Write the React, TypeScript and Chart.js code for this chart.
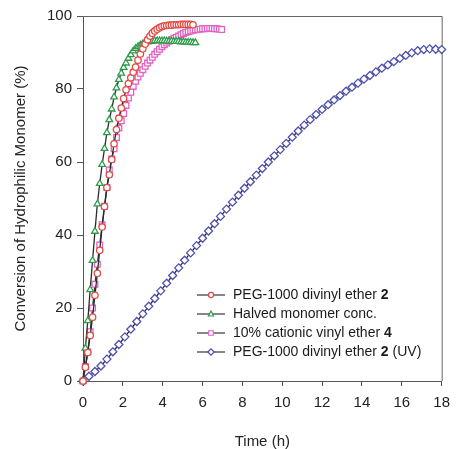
import { useEffect, useRef } from "react";
import { Chart, registerables } from "chart.js";

Chart.register(...registerables);

// Sampling times (h) for the three fast runs
const fastTimes = [
  0, 0.12, 0.24, 0.36, 0.48, 0.6, 0.72, 0.84, 0.96, 1.08, 1.2, 1.32, 1.44, 1.56, 1.68, 1.8, 1.92, 2.04, 2.16, 2.28,
  2.4, 2.52, 2.64, 2.76, 2.88, 3.0, 3.12, 3.24, 3.36, 3.48, 3.6, 3.72, 3.84, 3.96, 4.08, 4.2, 4.32, 4.44, 4.56, 4.68,
  4.8, 4.92, 5.04, 5.16, 5.28, 5.4, 5.52, 5.64, 5.76, 5.88, 6.0, 6.12, 6.24, 6.36, 6.48, 6.6, 6.72, 6.84, 6.96,
];

// PEG-1000 divinyl ether 2
const pegValues = [
  0, 3.8, 7.8, 12.5, 17.5, 23.5, 29.5, 35.8, 42.2, 47.8, 53, 56.5, 60.7, 65, 68.9, 72, 74.8, 77.4, 79.8, 81.5,
  83.1, 84.6, 86, 87.9, 89.6, 91, 92.3, 93.5, 94.5, 95.3, 95.9, 96.4, 96.8, 97.1, 97.3, 97.4, 97.5, 97.5, 97.6, 97.6,
  97.6, 97.7, 97.7, 97.7, 97.7, 97.7, 97.6,
];

// Halved monomer conc.
const halvedValues = [
  0, 9, 16.5, 25, 33, 41, 48.5, 54.1, 59.3, 63.7, 68, 71.6, 74.5, 77.8, 80.3, 82.6, 84.3, 85.9, 87.1, 88.4,
  89.4, 90.4, 91.1, 91.6, 92.0, 92.4, 92.7, 92.9, 93.0, 93.1, 93.2, 93.2, 93.2, 93.2, 93.2, 93.1, 93.1, 93.1, 93.0, 93.0,
  93.0, 92.9, 92.9, 92.8, 92.8, 92.8, 92.7, 92.7,
];

// 10% cationic vinyl ether 4
const cationicValues = [
  0, 4, 8, 13.5, 20, 26.5, 32, 37.3, 42.8, 47.9, 53, 57.8, 60.8, 63.6, 66.7, 69.3, 71.3, 73.3, 75.5, 77.5,
  79.1, 80.7, 82.1, 83.3, 84.3, 85.3, 86.2, 87.1, 87.9, 88.7, 89.5, 90.2, 90.9, 91.6, 92.1, 92.6, 93.1, 93.5, 93.9, 94.2,
  94.5, 94.9, 95.2, 95.5, 95.7, 95.9, 96.1, 96.2, 96.3, 96.4, 96.5, 96.5, 96.6, 96.6, 96.6, 96.5, 96.5, 96.4, 96.3,
];

// PEG-1000 divinyl ether 2 (UV)
const uvTimes = [
  0, 0.3, 0.6, 0.9, 1.2, 1.5, 1.8, 2.1, 2.4, 2.7, 3.0, 3.3, 3.6, 3.9, 4.2, 4.5, 4.8, 5.1, 5.4, 5.7,
  6.0, 6.3, 6.6, 6.9, 7.2, 7.5, 7.8, 8.1, 8.4, 8.7, 9.0, 9.3, 9.6, 9.9, 10.2, 10.5, 10.8, 11.1, 11.4, 11.7,
  12.0, 12.3, 12.6, 12.9, 13.2, 13.5, 13.8, 14.1, 14.4, 14.7, 15.0, 15.3, 15.6, 15.9, 16.2, 16.5, 16.8, 17.1, 17.4, 17.7,
  18.0,
];
const uvValues = [
  0, 1.3, 2.6, 4.1, 6.0, 8.0, 10.0, 12.1, 14.2, 16.3, 18.4, 20.5, 22.6, 24.7, 26.8, 28.9, 31.0, 33.1, 35.1, 37.1,
  39.1, 41.1, 43.1, 45.1, 47.1, 49.0, 50.9, 52.8, 54.6, 56.4, 58.2, 60.0, 61.7, 63.4, 65.1, 66.8, 68.5, 70.1, 71.6, 73.0,
  74.4, 75.7, 77.0, 78.2, 79.4, 80.5, 81.6, 82.7, 83.7, 84.7, 85.7, 86.6, 87.5, 88.4, 89.2, 89.9, 90.5, 90.8, 91.0, 90.9,
  90.8,
];

const legendParts = [
  ["PEG-1000 divinyl ether ", "2", ""],
  ["Halved monomer conc.", "", ""],
  ["10% cationic vinyl ether ", "4", ""],
  ["PEG-1000 divinyl ether ", "2", " (UV)"],
];

const xTitle = "Time (h)";
const yTitle = "Conversion of Hydrophilic Monomer (%)";

const FONT = '"Liberation Sans", Arial, Helvetica, sans-serif';

const markerStyles = [
  { style: "circle", color: "#e24a44", radius: 3.2 },
  { style: "triangle", color: "#2f9c4c", radius: 3.8 },
  { style: "rect", color: "#e063c4", radius: 4 },
  { style: "rectRot", color: "#4f50ad", radius: 4 },
];

function zip(times: number[], values: number[]) {
  return values.map((y, i) => ({ x: times[i], y }));
}

function drawMarker(ctx: CanvasRenderingContext2D, style: string, r: number, x: number, y: number) {
  ctx.beginPath();
  if (style === "circle") {
    ctx.arc(x, y, r, 0, Math.PI * 2);
  } else if (style === "triangle") {
    ctx.moveTo(x, y - r);
    ctx.lineTo(x - r * 0.866, y + r * 0.5 + 0.5);
    ctx.lineTo(x + r * 0.866, y + r * 0.5 + 0.5);
    ctx.closePath();
  } else if (style === "rect") {
    const s = r * Math.SQRT1_2;
    ctx.rect(x - s, y - s, 2 * s, 2 * s);
  } else {
    ctx.moveTo(x - r, y);
    ctx.lineTo(x, y - r);
    ctx.lineTo(x + r, y);
    ctx.lineTo(x, y + r);
    ctx.closePath();
  }
  ctx.fill();
  ctx.stroke();
}

export default function App() {
  const ref = useRef<HTMLCanvasElement | null>(null);

  useEffect(() => {
    if (!ref.current) return;
    const seriesData = [
      zip(fastTimes, pegValues),
      zip(fastTimes, halvedValues),
      zip(fastTimes, cationicValues),
      zip(uvTimes, uvValues),
    ];

    const framePlugin = {
      id: "frame",
      beforeDatasetsDraw(chart: any) {
        const { ctx, chartArea } = chart;
        ctx.save();
        ctx.strokeStyle = "#666";
        ctx.lineWidth = 1;
        ctx.beginPath();
        ctx.moveTo(chartArea.left, chartArea.top + 0.5);
        ctx.lineTo(chartArea.right + 0.5, chartArea.top + 0.5);
        ctx.lineTo(chartArea.right + 0.5, chartArea.bottom);
        ctx.stroke();
        ctx.restore();
      },
    };

    const legendPlugin = {
      id: "customLegend",
      afterDraw(chart: any) {
        const { ctx } = chart;
        ctx.save();
        const x0 = 197;
        const x1 = 225;
        const tx = 233;
        legendParts.forEach((parts, i) => {
          const y = 295 + i * 19;
          ctx.strokeStyle = "#444";
          ctx.lineWidth = 1.3;
          ctx.beginPath();
          ctx.moveTo(x0, y);
          ctx.lineTo(x1, y);
          ctx.stroke();
          const m = markerStyles[i];
          ctx.fillStyle = "#fff";
          ctx.strokeStyle = m.color;
          ctx.lineWidth = 1.2;
          drawMarker(ctx, m.style, m.radius * 0.8, (x0 + x1) / 2, y);
          ctx.fillStyle = "#1a1a1a";
          ctx.textBaseline = "middle";
          ctx.textAlign = "left";
          let x = tx;
          ctx.font = `14px ${FONT}`;
          ctx.fillText(parts[0], x, y);
          x += ctx.measureText(parts[0]).width;
          if (parts[1]) {
            ctx.font = `bold 14px ${FONT}`;
            ctx.fillText(parts[1], x, y);
            x += ctx.measureText(parts[1]).width;
          }
          if (parts[2]) {
            ctx.font = `14px ${FONT}`;
            ctx.fillText(parts[2], x, y);
          }
        });
        ctx.restore();
      },
    };

    const chart = new Chart(ref.current, {
      type: "line",
      data: {
        datasets: seriesData.map((d, i) => ({
          label: legendParts[i].join(""),
          data: d,
          borderColor: "#2b2b2b",
          borderWidth: 1.3,
          pointStyle: markerStyles[i].style as any,
          pointRadius: markerStyles[i].radius,
          pointBorderColor: markerStyles[i].color,
          pointBackgroundColor: "#ffffff",
          pointBorderWidth: 1.3,
          tension: 0,
          clip: false as any,
        })),
      },
      options: {
        animation: false,
        responsive: false,
        maintainAspectRatio: false,
        layout: { padding: { left: 0, right: 10, top: 16, bottom: 0 } },
        plugins: {
          legend: { display: false },
          tooltip: { enabled: false },
        },
        scales: {
          x: {
            type: "linear",
            min: 0,
            max: 18,
            ticks: { stepSize: 2, color: "#222", padding: 8, font: { family: FONT, size: 15 } },
            grid: { display: true, drawOnChartArea: false, drawTicks: true, tickLength: 5, color: "#555" },
            border: { display: true, color: "#555", width: 1 },
            title: {
              display: true,
              text: xTitle,
              color: "#222",
              padding: 0,
              font: { family: FONT, size: 15, lineHeight: 1 },
            },
            afterFit(scale: any) {
              scale.height = 68;
            },
          },
          y: {
            type: "linear",
            min: 0,
            max: 100,
            ticks: { stepSize: 20, color: "#222", padding: 5, font: { family: FONT, size: 15 } },
            grid: { display: true, drawOnChartArea: false, drawTicks: true, tickLength: 6, color: "#555" },
            border: { display: true, color: "#555", width: 1 },
            title: {
              display: true,
              text: yTitle,
              color: "#222",
              padding: { top: 13, bottom: 0 },
              font: { family: FONT, size: 15, lineHeight: 1 },
            },
            afterFit(scale: any) {
              scale.width = 83;
            },
          },
        },
      },
      plugins: [framePlugin, legendPlugin],
    });
    return () => chart.destroy();
  }, []);

  return (
    <div style={{ position: "absolute", left: 0, top: 0, width: 458, height: 449, background: "#fff" }}>
      <canvas ref={ref} width={458} height={449} style={{ width: 458, height: 449 }} />
    </div>
  );
}
